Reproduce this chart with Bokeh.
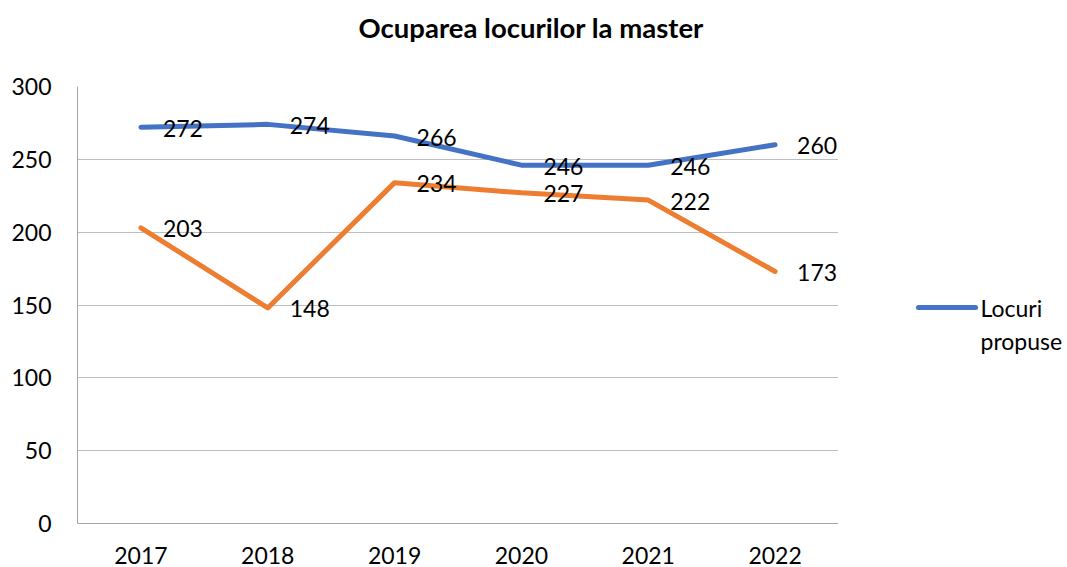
from bokeh.plotting import figure
from bokeh.models import Range1d, FactorRange, ColumnDataSource, Title
from bokeh.layouts import row
from bokeh.embed import file_html
from bokeh.resources import INLINE
from bokeh.core.properties import value

years = ["2017", "2018", "2019", "2020", "2021", "2022"]
locuri_propuse = [272, 274, 266, 246, 246, 260]
locuri_ocupate = [203, 148, 234, 227, 222, 173]
legend_words = ["Locuri", "propuse"]
title_text = "Ocuparea locurilor la master"

FONT = "Lato"
BLUE = "#4472C4"
ORANGE = "#ED7D31"
FS = "23px"

p = figure(width=838, height=567, x_range=FactorRange(*years), y_range=Range1d(0, 300),
           output_backend="svg", toolbar_location=None, title_location=None,
           min_border_left=77, min_border_right=0, min_border_top=86, min_border_bottom=44)

spacer = Title(text=" ", text_font_size="1px", standoff=40)
p.add_layout(spacer, "above")
main_title = Title(text=title_text, text_font=FONT, text_font_size="27.5px", text_font_style="bold",
                   align="left", offset=281, standoff=0, text_color="#000000")
p.add_layout(main_title, "above")

p.outline_line_color = None
p.xgrid.grid_line_color = None
p.ygrid.grid_line_color = "#BEBEBE"
p.ygrid.grid_line_width = 1
p.yaxis.ticker = [0, 50, 100, 150, 200, 250, 300]

for ax in (p.xaxis[0], p.yaxis[0]):
    ax.axis_line_color = "#A6A6A6"
    ax.major_tick_line_color = None
    ax.minor_tick_line_color = None
    ax.major_label_text_font = FONT
    ax.major_label_text_font_size = FS
    ax.major_label_text_color = "#000000"
p.yaxis.major_label_standoff = 20
p.xaxis.major_label_standoff = 17

src_b = ColumnDataSource(dict(x=years, y=locuri_propuse, t=[str(v) for v in locuri_propuse]))
src_o = ColumnDataSource(dict(x=years, y=locuri_ocupate, t=[str(v) for v in locuri_ocupate]))

p.line("x", "y", source=src_b, line_color=BLUE, line_width=5, line_cap="round", line_join="round")
p.line("x", "y", source=src_o, line_color=ORANGE, line_width=5, line_cap="round", line_join="round")

for src in (src_b, src_o):
    p.text("x", "y", text="t", source=src, x_offset=22, y_offset=1,
           text_font=value(FONT), text_font_size=FS, text_color="#000000",
           text_align="left", text_baseline="middle")

# legend panel: frame aligned with the main plot's frame (pixel-like coordinates)
lg = figure(width=229, height=567, x_range=Range1d(0, 229), y_range=Range1d(523, 86),
            output_backend="svg", toolbar_location=None, title_location=None,
            x_axis_type=None, y_axis_type=None,
            min_border_left=0, min_border_right=0, min_border_top=86, min_border_bottom=44)
lg.outline_line_color = None
lg.xgrid.visible = False
lg.ygrid.visible = False
lg.line([80, 137], [307, 307], line_color=BLUE, line_width=5, line_cap="round")
lg.text([142, 142], [307, 340], text=legend_words, text_font=value(FONT), text_font_size=FS,
        text_color="#000000", text_align="left", text_baseline="middle")

layout = row(p, lg, spacing=0)
open("out.html", "w").write(file_html(layout, INLINE))
